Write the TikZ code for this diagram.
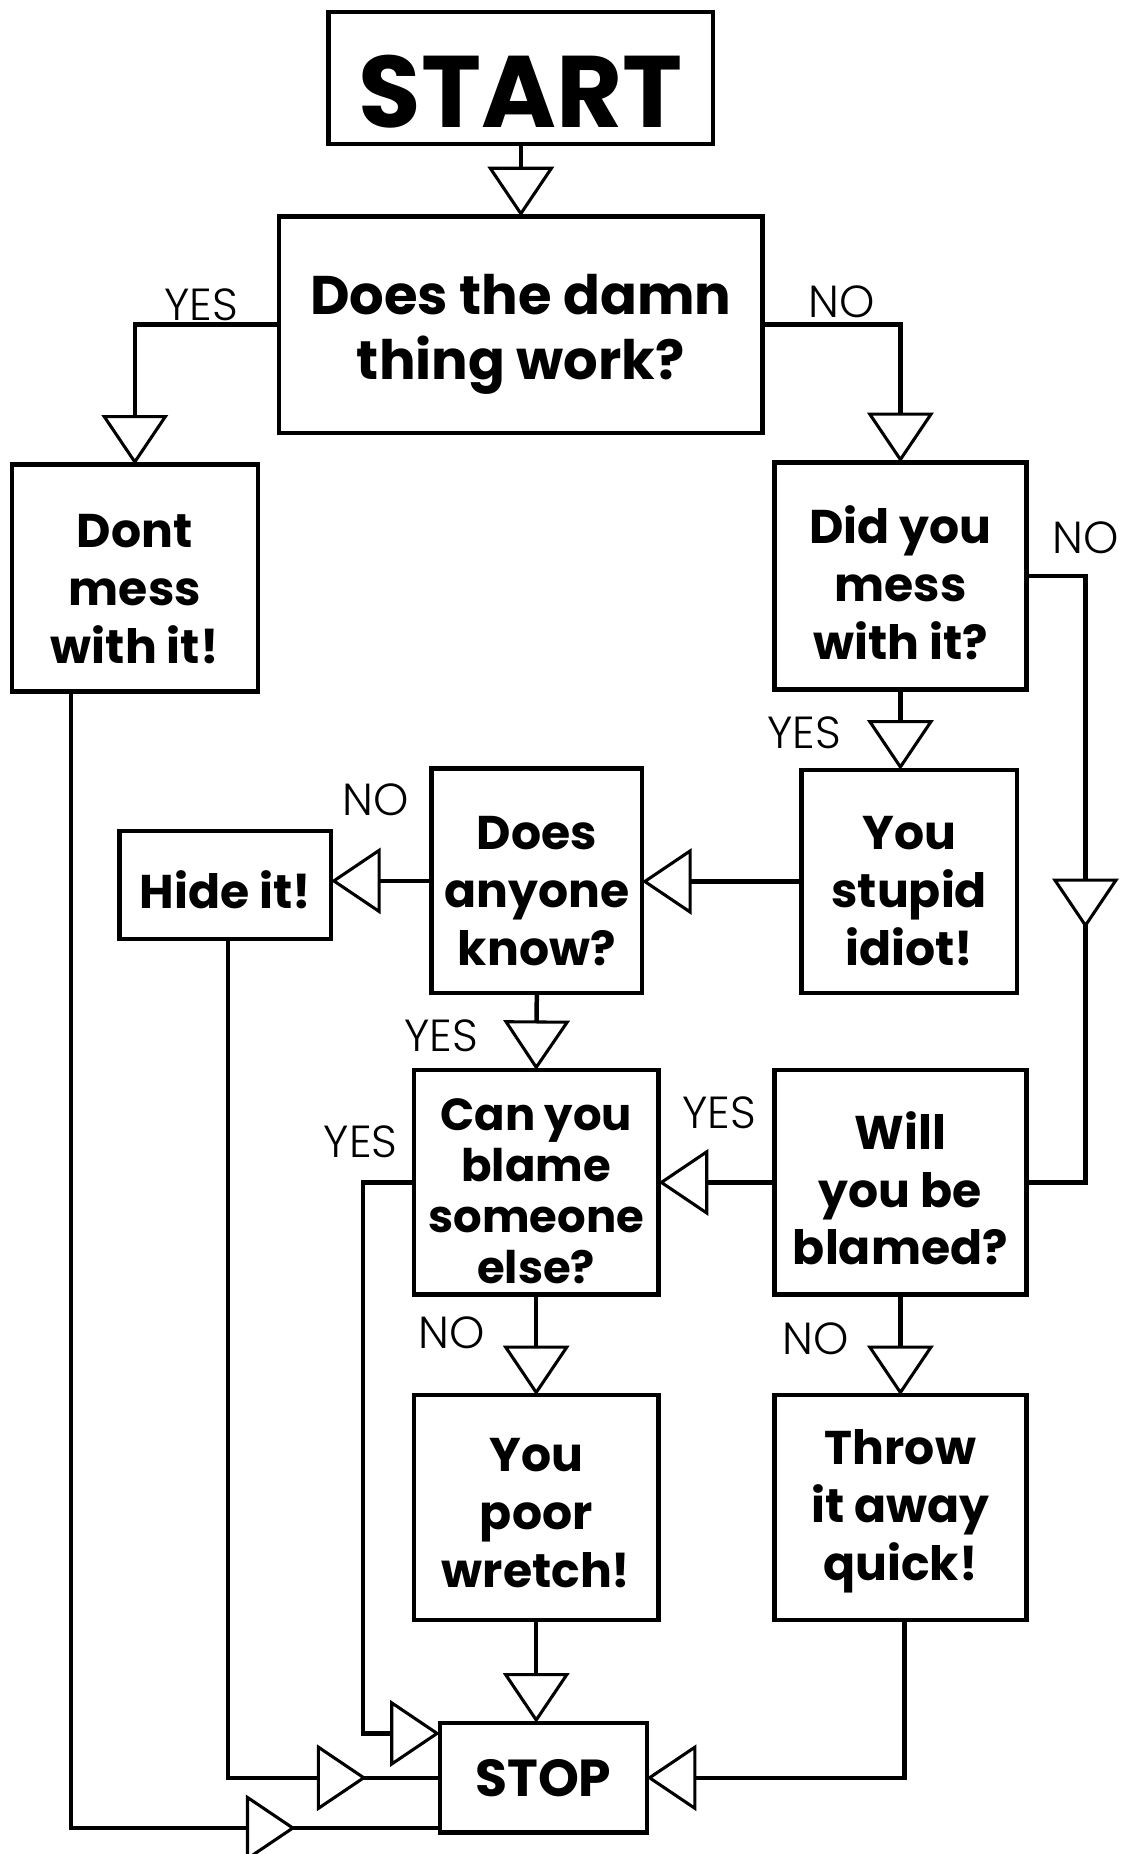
\documentclass[tikz,border=0pt]{standalone}
\usepackage{fontspec}
\setmainfont{Poppins}
\newfontfamily\labfont{Poppins Light}
\usetikzlibrary{arrows.meta,decorations.markings}
\newcommand\dn[1]{\rule{0pt}{#1pt}}
\tikzset{
  tri/.tip={Triangle[length=42pt,width=56pt,fill=white,line width=2.6pt]},
  box/.style={draw,line width=3.8pt,align=center,inner sep=0pt,outer sep=0pt,
    font=\bfseries\fontsize{40}{49}\selectfont},
  lab/.style={inner sep=0pt,font=\labfont\fontsize{38}{38}\selectfont},
  conn/.style={line width=3.8pt,-{tri}},
  plain/.style={line width=3.8pt},
  midtri/.style={postaction={decorate},decoration={markings,
    mark=at position #1 with {\arrow{tri}}}}
}
\begin{document}
\begin{tikzpicture}[x=1pt,y=-1pt]
\fill[white] (0,0) rectangle (967,1568);
\useasboundingbox (0,0) rectangle (967,1568);
% nodes
\node[box,minimum width=325,minimum height=112,font=\bfseries\fontsize{86}{86}\selectfont] (start) at (440.5,66) {\dn{84}START};
\node[box,minimum width=409,minimum height=183,font=\bfseries\fontsize{46}{55}\selectfont] (q1) at (440.5,274.5) {\dn{50}Does the damn\\thing work?};
\node[box,minimum width=208,minimum height=192] (dont) at (114,489) {\dn{47}Dont\\mess\\with it!};
\node[box,minimum width=213,minimum height=192] (mess) at (761.5,487) {\dn{44}Did you\\mess\\with it?};
\node[box,minimum width=182,minimum height=189] (idiot) at (769,745.5) {\dn{44}You\\stupid\\idiot!};
\node[box,minimum width=178,minimum height=190] (know) at (454,745) {\dn{46}Does\\anyone\\know?};
\node[box,minimum width=179,minimum height=91] (hide) at (190.5,748.5) {\dn{40}Hide it!};
\node[box,minimum width=207,minimum height=190,font=\bfseries\fontsize{38}{43}\selectfont] (blame) at (453.5,1000) {\dn{42}Can you\\blame\\someone\\else?};
\node[box,minimum width=213,minimum height=190] (blamed) at (761.5,1000) {\dn{42}Will\\you be\\blamed?};
\node[box,minimum width=207,minimum height=190] (wretch) at (453.5,1275) {\dn{38}You\\poor\\wretch!};
\node[box,minimum width=213,minimum height=190] (throw) at (761.5,1275) {\dn{36}Throw\\it away\\quick!};
\node[box,minimum width=175,minimum height=93,font=\bfseries\fontsize{44}{44}\selectfont] (stop) at (459.5,1503.5) {STOP};
% labels
\node[lab] (l1) at (170,258) {YES};
\node[lab] (l2) at (712,255) {NO};
\node[lab] (l3) at (918,455) {NO};
\node[lab] (l4) at (680,620) {YES};
\node[lab] (l5) at (318,676) {NO};
\node[lab] (l6) at (373,876) {YES};
\node[lab] (l7) at (305,966) {YES};
\node[lab] (l8) at (608,941) {YES};
\node[lab] (l9) at (382,1127) {NO};
\node[lab] (l10) at (690,1132) {NO};
% connectors
\draw[conn] (start.south) -- (q1.north);
\draw[conn] (q1.west) -| (dont.north);
\draw[conn] (q1.east) -| (mess.north);
\draw[conn] (mess.south) -- (mess.south |- idiot.north);
\draw[conn] (idiot.west) -- (know.east |- idiot.west);
\draw[conn] (know.west) -- (hide.east |- know.west);
\draw[conn] (know.south) -- (blame.north);
\draw[plain,midtri=348pt] (mess.east) -- ++(50,0) |- (blamed.east);
\draw[conn] (blamed.west) -- (blame.east);
\draw[conn] (blame.west) -- ++(-43,0) |- ([yshift=37.5pt]stop.west);
\draw[conn] (blame.south) -- (wretch.north);
\draw[conn] (blamed.south) -- (throw.north);
\draw[conn] (wretch.south) -- (wretch.south |- stop.north);
\draw[conn] ([xshift=3.5pt]throw.south) |- (stop.east);
\draw[plain,midtri=-62pt] ([xshift=2.5pt]hide.south) |- (stop.west);
\draw[plain,midtri=-122pt] ([xshift=-54pt]dont.south) |- ([yshift=-42.5pt]stop.west);
\end{tikzpicture}
\end{document}
